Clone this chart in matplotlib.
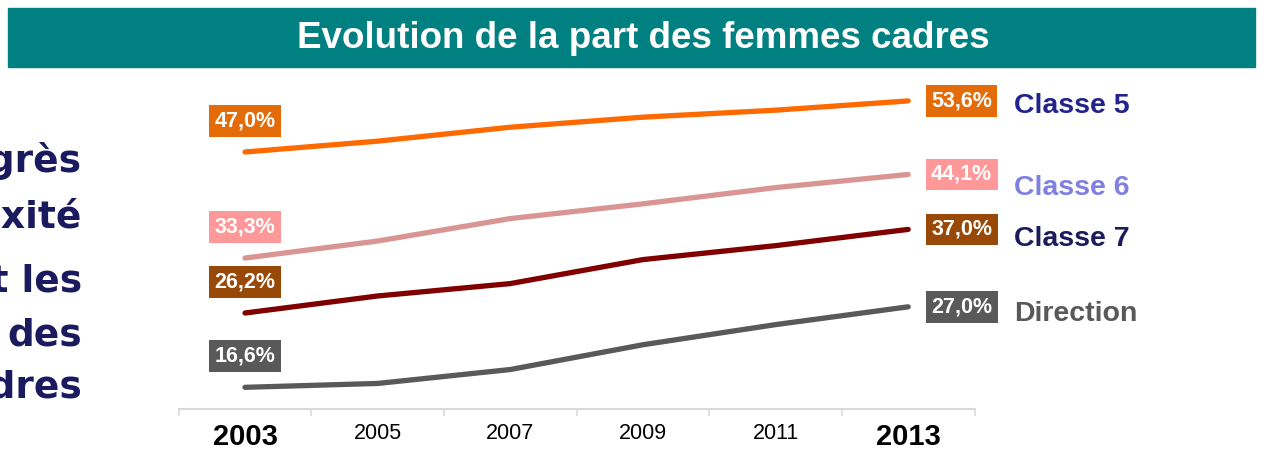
import matplotlib
matplotlib.use("Agg")
import matplotlib.pyplot as plt
from matplotlib.patches import Rectangle

# data
years = ["2003", "2005", "2007", "2009", "2011", "2013"]
classe5 = [47.0, 48.4, 50.2, 51.5, 52.4, 53.6]
classe6 = [33.3, 35.5, 38.4, 40.3, 42.4, 44.1]
classe7 = [26.2, 28.4, 30.0, 33.1, 34.9, 37.0]
direction = [16.6, 17.1, 18.9, 22.1, 24.7, 27.0]
series_names = ["Classe 5", "Classe 6", "Classe 7", "Direction"]

line_colors = ["#FF6A00", "#D99594", "#800000", "#595959"]
box_colors = ["#E36C09", "#FF9999", "#984807", "#595959"]
name_colors = ["#23238C", "#8080E0", "#1C1C5C", "#595959"]
name_dy = [-4, -10, -7, -5]  # points, downward shift of series name

plt.rcParams['font.family'] = ['Liberation Sans', 'DejaVu Sans']

fig = plt.figure(figsize=(12.61, 4.51), dpi=100)

# title bar
fig.patches.append(Rectangle((8 / 1261, 1 - 67 / 451), 1247 / 1261, 59 / 451,
                             transform=fig.transFigure, color="#008080", zorder=0))
fig.text(643 / 1261, 1 - 39 / 451, "Evolution de la part des femmes cadres",
         color="white", fontsize=26.5, fontweight="bold", ha="center", va="center")

# cut-off text on the left (page text running behind the chart)
left_words = ["Progrès", "mixité", "et les", "des", "cadres"]
left_base = [172, 228, 291, 345, 398]
for w, yb in zip(left_words, left_base):
    fig.text(82 / 1261, 1 - yb / 451, w, family="DejaVu Sans", fontweight="bold",
             fontsize=27, color="#1A1A5E", ha="right", va="baseline")

ax = fig.add_axes([178.7 / 1261, 1 - 409 / 451, 795.8 / 1261, 329 / 451])
x = list(range(len(years)))
data = [classe5, classe6, classe7, direction]

for vals, lc, bc, nc, name, dy in zip(data, line_colors, box_colors, name_colors, series_names, name_dy):
    ax.plot(x, vals, color=lc, lw=3.8, solid_capstyle="round", solid_joinstyle="round")
    box = dict(boxstyle="square,pad=0.25", fc=bc, ec="none")
    ax.annotate(f"{vals[0]:.1f}%".replace(".", ","), (x[0], vals[0]), xytext=(0, 22.5),
                textcoords="offset points", ha="center", va="center", color="white",
                fontsize=15.5, fontweight="bold", bbox=box)
    ax.annotate(f"{vals[-1]:.1f}%".replace(".", ","), (x[-1], vals[-1]), xytext=(38.5, 0),
                textcoords="offset points", ha="center", va="center", color="white",
                fontsize=15.5, fontweight="bold", bbox=box)
    ax.annotate(name, (x[-1], vals[-1]), xytext=(76, dy), textcoords="offset points",
                ha="left", va="center", color=nc, fontsize=20.5, fontweight="bold",
                annotation_clip=False)

ax.set_xlim(-0.5, len(years) - 0.5)
ax.set_ylim(13.8, 56.3)
ax.set_yticks([])
for s in ["top", "right", "left"]:
    ax.spines[s].set_visible(False)
ax.spines["bottom"].set_color("#D9D9D9")
ax.spines["bottom"].set_linewidth(1.5)

ax.set_xticks(x)
ax.set_xticklabels(years)
ax.tick_params(axis="x", which="major", length=0, pad=10)
ax.set_xticks([i - 0.5 for i in range(len(years) + 1)], minor=True)
ax.tick_params(axis="x", which="minor", length=5, width=1.2, color="#D9D9D9")
for i, lab in enumerate(ax.get_xticklabels()):
    if i in (0, len(years) - 1):
        lab.set_fontsize(21)
        lab.set_fontweight("bold")
    else:
        lab.set_fontsize(15.5)
    lab.set_color("black")

fig.savefig("out.png", dpi=100)
